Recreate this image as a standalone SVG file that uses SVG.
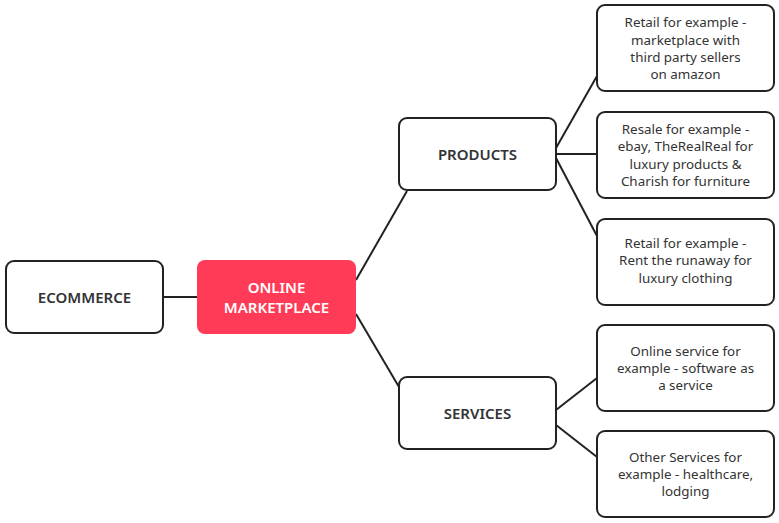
<svg xmlns="http://www.w3.org/2000/svg" width="779" height="523" viewBox="0 0 779 523">
<style>
.box{fill:#fff;stroke:#222;stroke-width:2}
.hot{fill:#FF3B57;stroke:none}
.t{font-family:"Noto Sans","Liberation Sans",sans-serif;font-size:13.4px;fill:#333;text-anchor:middle}
.b{font-family:"Noto Sans","Liberation Sans",sans-serif;font-size:15px;font-weight:600;fill:#333;text-anchor:middle}
.w{fill:#fff}
.c{stroke:#222;stroke-width:2;fill:none}
</style>
<rect width="779" height="523" fill="#fff"/>
<g id="connectors">
<line class="c" x1="163" y1="297" x2="197" y2="297"/>
<line class="c" x1="356" y1="280" x2="407" y2="191"/>
<line class="c" x1="356" y1="314" x2="399" y2="387"/>
<line class="c" x1="556" y1="148" x2="597" y2="76"/>
<line class="c" x1="556" y1="154" x2="597" y2="154"/>
<line class="c" x1="556" y1="158" x2="597" y2="236"/>
<line class="c" x1="556" y1="410" x2="597" y2="378"/>
<line class="c" x1="556" y1="425" x2="597" y2="457"/>
</g>
<g id="ecommerce">
<rect class="box" x="6" y="261" width="157" height="72" rx="8"/>
<text class="b" x="84.5" y="302.5">ECOMMERCE</text>
</g>
<g id="online-marketplace">
<rect class="hot" x="197" y="260" width="159" height="74" rx="8"/>
<text class="b w" x="276.5" y="293">ONLINE</text>
<text class="b w" x="276.5" y="313">MARKETPLACE</text>
</g>
<g id="products">
<rect class="box" x="399" y="118" width="157" height="72" rx="8"/>
<text class="b" x="477.5" y="160">PRODUCTS</text>
</g>
<g id="services">
<rect class="box" x="399" y="377" width="157" height="72" rx="8"/>
<text class="b" x="477.5" y="418.5">SERVICES</text>
</g>
<g id="retail-amazon">
<rect class="box" x="597" y="5" width="177" height="86" rx="8"/>
<text class="t" x="685.5" y="27">Retail for example -</text>
<text class="t" x="685.5" y="45">marketplace with</text>
<text class="t" x="685.5" y="62">third party sellers</text>
<text class="t" x="685.5" y="79">on amazon</text>
</g>
<g id="resale">
<rect class="box" x="597" y="112" width="177" height="86" rx="8"/>
<text class="t" x="685.5" y="134">Resale for example -</text>
<text class="t" x="685.5" y="151">ebay, TheRealReal for</text>
<text class="t" x="685.5" y="168.5">luxury products &amp;</text>
<text class="t" x="685.5" y="186">Charish for furniture</text>
</g>
<g id="retail-rent">
<rect class="box" x="597" y="219" width="177" height="86" rx="8"/>
<text class="t" x="685.5" y="248">Retail for example -</text>
<text class="t" x="685.5" y="265">Rent the runaway for</text>
<text class="t" x="685.5" y="282.5">luxury clothing</text>
</g>
<g id="online-service">
<rect class="box" x="597" y="325" width="177" height="86" rx="8"/>
<text class="t" x="685.5" y="356">Online service for</text>
<text class="t" x="685.5" y="373">example - software as</text>
<text class="t" x="685.5" y="390">a service</text>
</g>
<g id="other-services">
<rect class="box" x="597" y="431" width="177" height="86" rx="8"/>
<text class="t" x="685.5" y="461.5">Other Services for</text>
<text class="t" x="685.5" y="478.5">example - healthcare,</text>
<text class="t" x="685.5" y="495.5">lodging</text>
</g>
</svg>
